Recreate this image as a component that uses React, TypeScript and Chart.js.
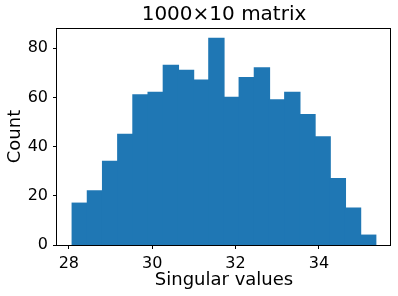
import React, { useEffect, useRef } from "react";
import { Chart, registerables } from "chart.js";

Chart.register(...registerables);

const binEdges = [
  28.080, 28.444, 28.809, 29.173, 29.537, 29.901, 30.266, 30.630, 30.994, 31.358,
  31.723, 32.087, 32.451, 32.815, 33.180, 33.544, 33.908, 34.272, 34.637, 35.001, 35.365,
];
const counts = [17, 22, 34, 45, 61, 62, 73, 71, 67, 84, 60, 68, 72, 59, 62, 53, 44, 27, 15, 4];
const xTicks = [28, 30, 32, 34];
const yTicks = [0, 20, 40, 60, 80];
const titleText = "1000×10 matrix";
const xLabel = "Singular values";
const yLabel = "Count";

const FONT = "'DejaVu Sans', sans-serif";

const boxPlugin = {
  id: "boxFrame",
  afterDraw(chart: any) {
    const { ctx, chartArea } = chart;
    const l = Math.round(chartArea.left) - 0.5;
    const r = Math.round(chartArea.right) - 0.5;
    const t = Math.round(chartArea.top) + 0.5;
    const b = Math.round(chartArea.bottom) + 0.5;
    ctx.save();
    ctx.strokeStyle = "#000";
    ctx.lineWidth = 1;
    ctx.strokeRect(l, t, r - l, b - t);
    ctx.restore();
  },
};

export default function App() {
  const ref = useRef<HTMLCanvasElement | null>(null);
  useEffect(() => {
    document.body.style.margin = "0";
    const data = counts.map((c, i) => ({ x: (binEdges[i] + binEdges[i + 1]) / 2, y: c }));
    const chart = new Chart(ref.current as HTMLCanvasElement, {
      type: "bar",
      data: {
        datasets: [
          {
            data,
            backgroundColor: "#1f77b4",
            borderWidth: 0,
            inflateAmount: 0.6,
            barPercentage: 1,
            categoryPercentage: 1,
          } as any,
        ],
      },
      options: {
        animation: false,
        responsive: false,
        devicePixelRatio: 1,
        layout: { padding: { left: 0, right: 7, top: 0, bottom: 0 } },
        plugins: {
          legend: { display: false },
          tooltip: { enabled: false },
          title: {
            display: true,
            fullSize: false,
            text: titleText,
            color: "#000",
            font: { family: FONT, size: 20, weight: "normal" as any },
            padding: { top: 3, bottom: 1 },
          },
        },
        scales: {
          x: {
            type: "linear",
            min: 27.716,
            max: 35.73,
            offset: false,
            afterBuildTicks: (s: any) => {
              s.ticks = xTicks.map((v) => ({ value: v }));
            },
            afterFit: (s: any) => {
              s.height = 51;
            },
            grid: {
              display: true,
              offset: false,
              drawOnChartArea: false,
              drawTicks: true,
              tickLength: 4,
              tickColor: "#000",
              tickWidth: 1,
            },
            border: { display: false },
            ticks: {
              color: "#000",
              padding: 5,
              maxRotation: 0,
              font: { family: FONT, size: 16 },
              callback: (v: any) => String(v),
            },
            title: {
              display: true,
              text: xLabel,
              color: "#000",
              font: { family: FONT, size: 18 },
              padding: { top: 0, bottom: 5 },
            },
          },
          y: {
            min: 0,
            max: 88.2,
            afterBuildTicks: (s: any) => {
              s.ticks = yTicks.map((v) => ({ value: v }));
            },
            afterFit: (s: any) => {
              s.width = 57;
            },
            grid: {
              display: true,
              offset: false,
              drawOnChartArea: false,
              drawTicks: true,
              tickLength: 4,
              tickColor: "#000",
              tickWidth: 1,
            },
            border: { display: false },
            ticks: {
              color: "#000",
              padding: 5,
              font: { family: FONT, size: 16 },
            },
            title: {
              display: true,
              text: yLabel,
              color: "#000",
              font: { family: FONT, size: 18 },
              padding: { top: 5, bottom: 0 },
            },
          },
        },
      },
      plugins: [boxPlugin],
    });
    return () => chart.destroy();
  }, []);
  return (
    <div style={{ position: "fixed", left: 0, top: 0, width: 398, height: 296, background: "#fff" }}>
      <canvas ref={ref} width={398} height={296} style={{ width: 398, height: 296 }} />
    </div>
  );
}
